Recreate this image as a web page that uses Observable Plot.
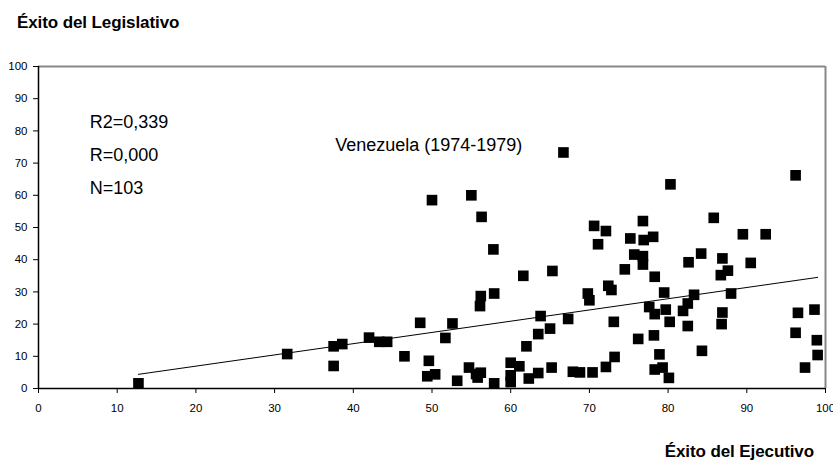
<!DOCTYPE html>
<html>
<head>
<meta charset="utf-8">
<script src="https://cdn.jsdelivr.net/npm/d3@7"></script>
<script src="https://cdn.jsdelivr.net/npm/@observablehq/plot@0.6"></script>
<style>
  html, body { margin: 0; padding: 0; background: #fff; }
  #wrap { position: relative; width: 833px; height: 463px; overflow: hidden; font-family: "Liberation Sans", Arial, sans-serif; }
  .ttl { position: absolute; font-weight: bold; font-size: 17px; color: #000; white-space: nowrap; letter-spacing: -0.1px; }
</style>
</head>
<body>
<div id="wrap">
  <div class="ttl" id="ytitle" style="left:17px; top:13px;">Éxito del Legislativo</div>
  <div class="ttl" id="xtitle" style="right:19px; top:442px;">Éxito del Ejecutivo</div>
  <div id="chart"></div>
</div>
<script>
// Éxito del Ejecutivo (x) and Éxito del Legislativo (y)
const ejecutivo = [
  12.7, 31.6, 37.5, 38.6, 37.5, 42.0, 43.3, 44.3, 46.5, 48.5,
  49.6, 49.4, 50.4, 51.7, 52.6, 53.2, 54.7, 55.6, 56.2, 55.8,
  56.1, 56.2, 57.9, 57.9, 50.0, 55.0, 56.3, 57.8, 61.6, 60.0,
  60.0, 60.0, 61.1, 62.0, 62.3, 63.5, 63.5, 63.8, 65.0, 65.2,
  65.3, 67.3, 67.9, 68.8, 70.4, 69.8, 70.0, 72.4, 72.8, 74.5,
  76.8, 78.3, 79.5, 77.6, 78.3, 79.7, 80.2, 73.1, 73.2, 72.1,
  76.2, 78.2, 78.9, 78.3, 79.3, 80.1, 66.7, 80.3, 70.6, 72.1,
  71.1, 76.8, 75.2, 76.9, 78.1, 75.7, 76.8, 82.6, 86.9, 90.5,
  86.7, 87.6, 83.3, 88.0, 81.9, 82.5, 82.5, 86.9, 86.8, 84.3,
  96.5, 98.6, 96.2, 98.9, 99.0, 97.4, 96.2, 85.8, 89.5, 92.4,
  84.2
];
const legislativo = [
  1.6, 10.7, 13.1, 13.8, 7.0, 15.8, 14.5, 14.5, 10.0, 20.4,
  8.6, 3.8, 4.4, 15.7, 20.2, 2.4, 6.5, 4.5, 4.9, 3.4,
  25.6, 28.7, 29.5, 1.6, 58.5, 60.0, 53.3, 43.2, 35.0, 8.0,
  4.1, 2.0, 6.9, 13.1, 3.1, 4.8, 16.9, 22.5, 18.6, 6.5,
  36.5, 21.6, 5.2, 5.0, 5.0, 29.5, 27.4, 31.9, 30.6, 37.0,
  38.5, 34.7, 29.8, 25.3, 23.1, 24.5, 20.7, 20.7, 9.8, 6.7,
  15.4, 16.5, 10.6, 5.9, 6.5, 3.3, 73.3, 63.4, 50.5, 48.9,
  44.8, 52.0, 46.6, 46.1, 47.1, 41.6, 41.1, 39.2, 40.4, 39.0,
  35.2, 36.6, 29.1, 29.5, 24.1, 26.4, 19.4, 23.6, 20.0, 11.7,
  23.5, 24.5, 17.3, 15.0, 10.4, 6.5, 66.2, 53.0, 47.9, 47.9,
  41.9
];
const xTicks = [0, 10, 20, 30, 40, 50, 60, 70, 80, 90, 100];
const yTicks = [0, 10, 20, 30, 40, 50, 60, 70, 80, 90, 100];
const statLabels = ["R2=0,339", "R=0,000", "N=103"];
const statY = [82.8, 72.5, 62.2];
const statX = [6.5, 6.5, 6.5];
const noteLabel = ["Venezuela (1974-1979)"];
const noteX = [37.7];
const noteY = [75.6];

const points = ejecutivo.map((x, i) => ({x, y: legislativo[i]}));
const stats = statLabels.map((t, i) => ({t, x: statX[i], y: statY[i]}));
const notes = noteLabel.map((t, i) => ({t, x: noteX[i], y: noteY[i]}));

const chart = Plot.plot({
  width: 833,
  height: 463,
  marginLeft: 38,
  marginRight: 8,
  marginTop: 66,
  marginBottom: 75,
  style: {fontFamily: '"Liberation Sans", Arial, sans-serif', fontSize: "11.5px", color: "#000", background: "#fff"},
  x: {domain: [0, 100]},
  y: {domain: [0, 100]},
  marks: [
    Plot.axisX({ticks: xTicks, tickSize: 5, tickPadding: 10, label: null, fontSize: 11.5, stroke: "#000"}),
    Plot.axisY({ticks: yTicks, tickSize: 5, tickPadding: 6, label: null, fontSize: 11.5, stroke: "#000"}),
    Plot.ruleY([100], {stroke: "#888", strokeWidth: 2}),
    Plot.ruleX([100], {stroke: "#888", strokeWidth: 2}),
    Plot.ruleY([0], {stroke: "#000", strokeWidth: 1.5}),
    Plot.ruleX([0], {stroke: "#000", strokeWidth: 1.5}),
    Plot.linearRegressionY(points, {x: "x", y: "y", stroke: "#000", strokeWidth: 1, ci: 0}),
    Plot.dot(points, {x: "x", y: "y", symbol: "square", r: 6, fill: "#000", stroke: "none"}),
    Plot.text(stats, {x: "x", y: "y", text: "t", textAnchor: "start", fontSize: 18, fill: "#000"}),
    Plot.text(notes, {x: "x", y: "y", text: "t", textAnchor: "start", fontSize: 18, fill: "#000"})
  ]
});
document.getElementById("chart").appendChild(chart);
</script>
</body>
</html>
